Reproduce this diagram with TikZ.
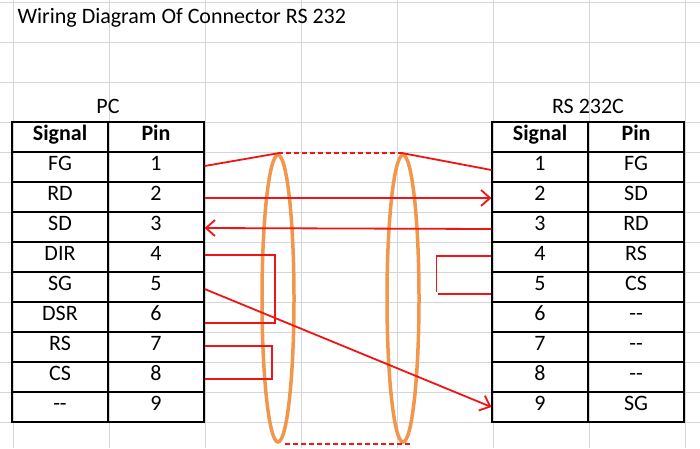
\documentclass[tikz,border=0pt]{standalone}
\usepackage{fontspec}
\setmainfont{Carlito}
\usetikzlibrary{shapes.geometric,arrows.meta}
\definecolor{wire}{RGB}{240,20,20}
\definecolor{shield}{RGB}{242,150,75}
\definecolor{gridgray}{RGB}{212,214,220}
\begin{document}
\begin{tikzpicture}[x=1pt,y=-1pt,font=\fontsize{22}{24}\selectfont,
  cell/.style = {draw, minimum width=96, minimum height=30, inner sep=0, text height=11pt, text depth=4pt, line width=1.2},
  head/.style = {cell, font=\fontsize{22}{24}\selectfont\bfseries},
  wireline/.style = {draw=wire, line width=1.8},
  dashwire/.style = {wireline, dash pattern=on 5pt off 3pt},
  tip/.style = {-{Straight Barb[length=9pt,width=16pt,line width=1.8]}},
  shieldring/.style = {ellipse, draw=shield, line width=3.5, minimum width=32, minimum height=287, inner sep=0}]
\useasboundingbox (0,0) rectangle (700,448);
% sheet grid
\foreach \x in {13,109,205,301,397,493,589,685} \draw[gridgray] (\x,0) -- (\x,448);
\foreach \y in {2,42,82,122,152,182,212,242,272,302,332,362,392,422} \draw[gridgray] (0,\y) -- (700,\y);
\node[anchor=west] (title) at (14,18) {Wiring Diagram Of Connector RS 232};
\node (pc) at (108,106) {PC};
\node (rsc) at (588,106) {RS 232C};
% PC table
\node[head] (lh1) at (60,137) {Signal};
\node[head] (lh2) at (156,137) {Pin};
\foreach \s [count=\i] in {FG,RD,SD,DIR,SG,DSR,RS,CS,-{}-}
  \node[cell] (ls\i) at (60,137+30*\i) {\s};
\foreach \i in {1,...,9}
  \node[cell] (lp\i) at (156,137+30*\i) {\i};
% RS 232C table
\node[head] (rh1) at (540,137) {Signal};
\node[head] (rh2) at (636,137) {Pin};
\foreach \i in {1,...,9}
  \node[cell] (rs\i) at (540,137+30*\i) {\i};
\foreach \s [count=\i] in {FG,SD,RD,RS,CS,-{}-,-{}-,-{}-,SG}
  \node[cell] (rp\i) at (636,137+30*\i) {\s};
% shield
\node[shieldring] (el) at (278,298.5) {};
\node[shieldring] (er) at (403,298.5) {};
% wires
\draw[wireline] ([yshift=1]lp1.east) -- (el.north);
\draw[dashwire] (el.north) -- (er.north);
\draw[wireline] (er.north) -- ([yshift=-3]rs1.west);
\draw[dashwire] ([xshift=7]el.south) -- ([xshift=7]er.south);
\draw[wireline, tip] ([yshift=-1]lp2.east) -- ([yshift=-1]rs2.west);
\draw[wireline, tip] ([yshift=-2]rs3.west) -- ([yshift=-1]lp3.east);
\draw[wireline] ([yshift=2]lp4.east) -- ++(70,0) |- ([yshift=-6]lp6.east);
\draw[wireline, tip] ([yshift=-2]lp5.east) -- (rs9.west);
\draw[wireline] ([yshift=1]lp7.east) -- ++(67,0) |- ([yshift=-2]lp8.east);
\draw[wireline] ([yshift=1]rs4.west) -- ++(-55,0) -- ++(0,36);
\draw[wireline] ([yshift=-7]rs5.west) -- ++(-53,0);
\end{tikzpicture}
\end{document}
